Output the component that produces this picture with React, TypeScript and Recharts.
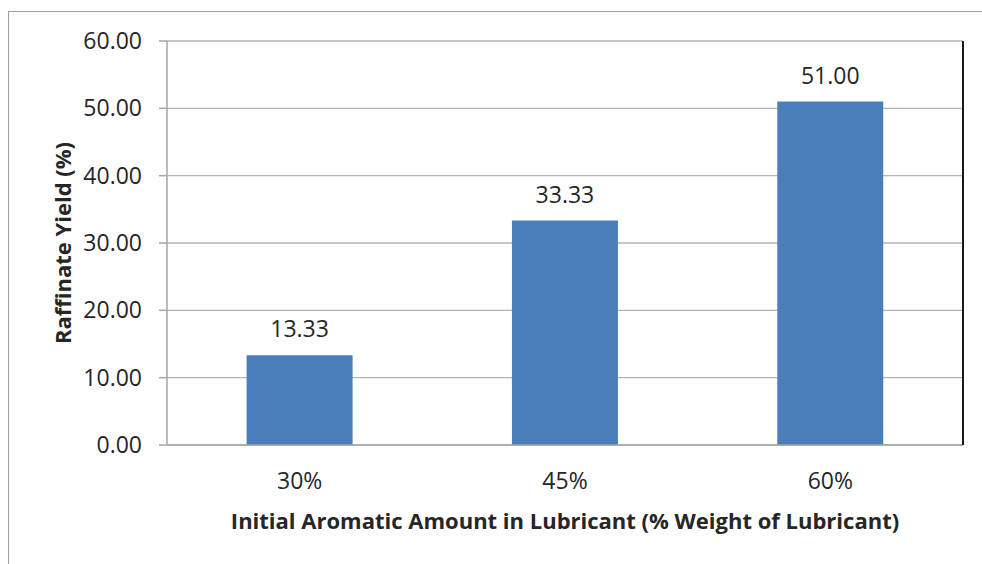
import { BarChart, Bar, XAxis, YAxis, CartesianGrid, LabelList } from "recharts";

const categories = ["30%", "45%", "60%"];
const raffinateYield = [13.33, 33.33, 51.0];
const yTicks = [0, 10, 20, 30, 40, 50, 60];

const FONT = "'Open Sans', 'Noto Sans', sans-serif";
const TEXT = "#262626";

export default function App() {
  const data = categories.map((c, i) => ({ name: c, value: raffinateYield[i] }));

  return (
    <div style={{ position: "relative", width: 982, height: 564, background: "#fff", fontFamily: FONT }}>
      <style>{"body{margin:0}"}</style>
      {/* outer frame, only top and left edges show */}
      <div
        style={{
          position: "absolute",
          left: 8,
          top: 11,
          right: -10,
          bottom: -10,
          borderTop: "1.5px solid #a0a0a0",
          borderLeft: "1.5px solid #a0a0a0",
        }}
      />
      <BarChart
        width={982}
        height={564}
        data={data}
        margin={{ top: 41, right: 18, bottom: 0, left: 0 }}
        barCategoryGap="30%"
        style={{ position: "absolute", left: 0, top: 0 }}
      >
        <CartesianGrid vertical={false} stroke="#b4b4b4" strokeWidth={1.3} />
        <XAxis
          dataKey="name"
          height={119}
          tickLine={false}
          tickSize={0}
          tickMargin={28}
          axisLine={{ stroke: "#a6a6a6", strokeWidth: 1.5 }}
          tick={{ fill: TEXT, fontSize: 23, fontFamily: FONT }}
          label={{
            value: "Initial Aromatic Amount in Lubricant (% Weight of Lubricant)",
            position: "insideBottom",
            offset: 35,
            style: { fill: TEXT, fontSize: 22, fontWeight: 700, fontFamily: FONT },
          }}
        />
        <YAxis
          width={167}
          domain={[0, 60]}
          ticks={yTicks}
          interval={0}
          tickSize={8}
          tickMargin={17}
          tickFormatter={(v: number) => v.toFixed(2)}
          tickLine={{ stroke: "#a6a6a6", strokeWidth: 1.5 }}
          axisLine={{ stroke: "#a6a6a6", strokeWidth: 1.5 }}
          tick={{ fill: TEXT, fontSize: 23, fontFamily: FONT }}
          label={{
            content: ({ viewBox }: any) => {
              const cy = viewBox.y + viewBox.height / 2;
              return (
                <text
                  x={62}
                  y={cy}
                  transform={`rotate(-90 62 ${cy})`}
                  textAnchor="middle"
                  dominantBaseline="central"
                  fill={TEXT}
                  fontSize={22}
                  fontWeight={700}
                  fontFamily={FONT}
                >
                  Raffinate Yield (%)
                </text>
              );
            },
          }}
        />
        <YAxis
          yAxisId="right"
          orientation="right"
          width={1}
          domain={[0, 60]}
          tick={false}
          tickLine={false}
          axisLine={{ stroke: "#1a1a1a", strokeWidth: 2 }}
        />
        <Bar dataKey="value" fill="#4a7ebb" isAnimationActive={false}>
          <LabelList
            dataKey="value"
            position="top"
            offset={18}
            formatter={(v: any) => Number(v).toFixed(2)}
            style={{ fill: TEXT, fontSize: 23, fontFamily: FONT }}
          />
        </Bar>
      </BarChart>
    </div>
  );
}
